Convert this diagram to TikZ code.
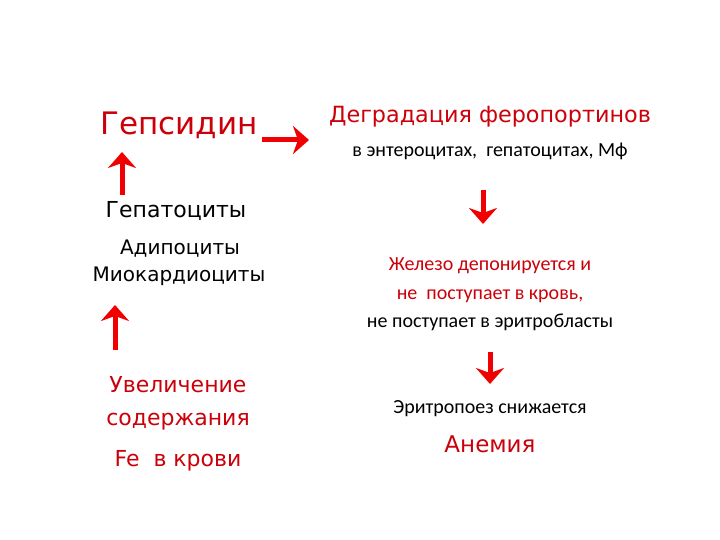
\documentclass[tikz,border=0pt]{standalone}
\usepackage{fontspec}
\usetikzlibrary{arrows.meta}
\newfontfamily\dv{DejaVu Sans}
\newfontfamily\cb{Carlito}
\definecolor{txtred}{RGB}{204,0,10}
\definecolor{arrred}{RGB}{240,0,0}
\tikzset{
  t/.style={anchor=base, inner sep=0pt, outer sep=0pt, align=center},
  redt/.style={t, text=txtred},
  blackt/.style={t, text=black},
  bigarrow/.style={draw=arrred, line width=5bp, -{Stealth[length=16bp,width=28bp,inset=5bp]}},
}
\newcommand{\fs}[1]{\fontsize{#1bp}{#1bp}\selectfont}
\begin{document}
\begin{tikzpicture}[x=1bp,y=-1bp]
\useasboundingbox[fill=white] (0,0) rectangle (720,540);
% left column
\node[redt, font=\dv\fs{31}] (gep) at (179,135) {Гепсидин};
\node[blackt, font=\dv\fs{22}] (hepat) at (176,218) {Гепатоциты};
\node[blackt, font=\dv\fs{20}] (adip) at (180,255) {Адипоциты};
\node[blackt, font=\dv\fs{20}] (miok) at (179,282) {Миокардиоциты};
\node[redt, font=\dv\fs{22}] (uv1) at (178,392) {Увеличение};
\node[redt, font=\dv\fs{22}] (uv2) at (178,425) {содержания};
\node[redt, font=\dv\fs{22}] (uv3) at (178,466) {Fe\ \ в крови};
% right column
\node[redt, font=\dv\fs{22.3}] (degr) at (490,123) {Деградация феропортинов};
\node[blackt, font=\cb\fs{20}] (entero) at (490,157) {в энтероцитах,\ \ гепатоцитах, Мф};
\node[redt, font=\cb\fs{20}] (zhel1) at (490,271) {Железо депонируется и};
\node[redt, font=\cb\fs{20}] (zhel2) at (490,299) {не\ \ поступает в кровь,};
\node[blackt, font=\cb\fs{20}] (zhel3) at (490,327) {не поступает в эритробласты};
\node[blackt, font=\cb\fs{20}] (eritr) at (490,413) {Эритропоез снижается};
\node[redt, font=\dv\fs{23}] (anem) at (490,452) {Анемия};
% arrow coordinates
\coordinate (a1s) at (122,195); \coordinate (a1e) at (122,152);
\coordinate (a2s) at (115,350); \coordinate (a2e) at (115,305);
\coordinate (a3s) at (262,140); \coordinate (a3e) at (309,140);
\coordinate (a4s) at (483,190); \coordinate (a4e) at (483,224);
\coordinate (a5s) at (490,352); \coordinate (a5e) at (490,384);
\draw[bigarrow] (a1s) -- (a1e);
\draw[bigarrow] (a2s) -- (a2e);
\draw[bigarrow] (a3s) -- (a3e);
\draw[bigarrow] (a4s) -- (a4e);
\draw[bigarrow] (a5s) -- (a5e);
\end{tikzpicture}
\end{document}
